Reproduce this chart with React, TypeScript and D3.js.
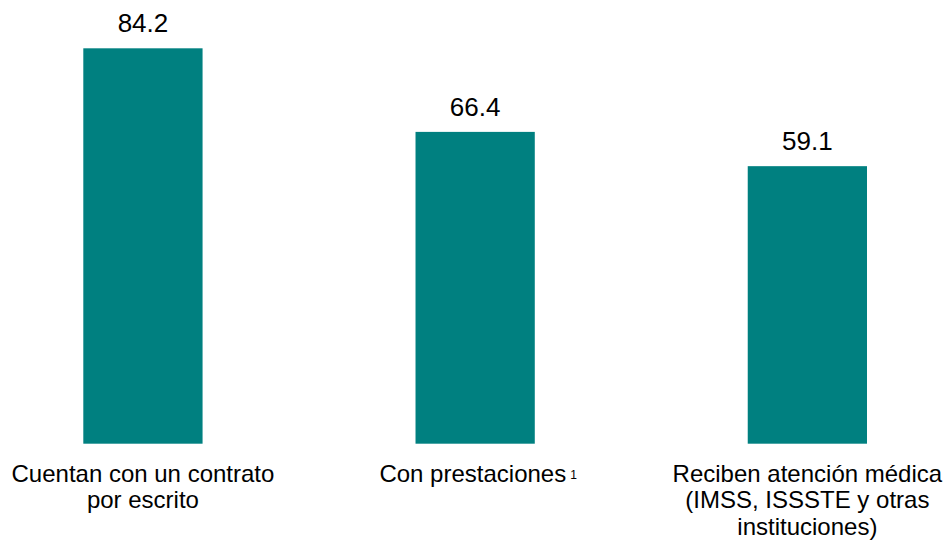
import React from 'react';
import * as d3 from 'd3';

const categories = ['contrato', 'prestaciones', 'atencion'];
const values = [84.2, 66.4, 59.1];
const labelLines = [
  ['Cuentan con un contrato', 'por escrito'],
  ['Con prestaciones'],
  ['Reciben atención médica', '(IMSS, ISSSTE y otras', 'instituciones)'],
];
const footnotes = ['', '1', ''];

const width = 946;
const height = 540;
const baseline = 443.7;
const teal = '#008080';
const font = '"Liberation Sans", Arial, sans-serif';

export default function App() {
  const x = d3.scaleBand<string>().domain(categories).range([83.3, 867]).paddingInner(0.641).paddingOuter(0);
  const y = d3.scaleLinear().domain([0, 84.2]).range([baseline, 48.3]);

  return (
    <svg
      width={width}
      height={height}
      style={{ position: 'absolute', left: 0, top: 0, background: '#fff' }}
      fontFamily={font}
    >
      {categories.map((c, i) => {
        const x0 = x(c)!;
        const cx = x0 + x.bandwidth() / 2;
        const top = y(values[i]);
        const lx = footnotes[i] ? cx + 3 : cx;
        return (
          <g key={c}>
            <rect x={x0} y={top} width={x.bandwidth()} height={baseline - top} fill={teal} />
            <text x={cx} y={top - 16} textAnchor="middle" fontSize={26} fill="#000">
              {values[i].toFixed(1)}
            </text>
            {/* category label, possibly with a footnote mark */}
            <text x={lx} y={baseline + 37.8} textAnchor="middle" fontSize={24} fill="#000">
              {labelLines[i].map((line, j) => (
                <tspan key={j} x={lx} dy={j === 0 ? 0 : 26.5}>
                  {line}
                </tspan>
              ))}
              {footnotes[i] && (
                <tspan fontSize={12} dx={4} dy={-3}>
                  {footnotes[i]}
                </tspan>
              )}
            </text>
          </g>
        );
      })}
    </svg>
  );
}
